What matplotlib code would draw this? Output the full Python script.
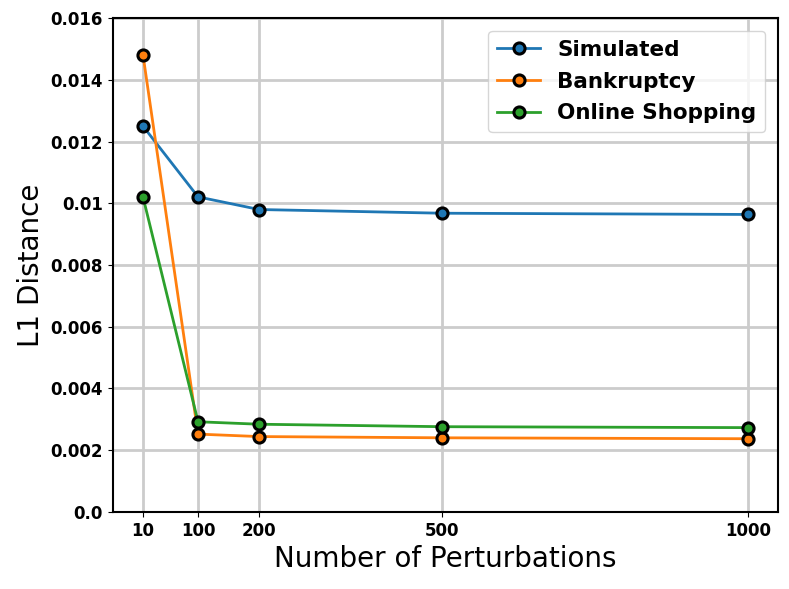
import matplotlib
matplotlib.use('Agg')
import matplotlib.pyplot as plt

# number of perturbations
perturbations = [10, 100, 200, 500, 1000]

simulated = [0.0125, 0.01021, 0.0098, 0.00968, 0.00964]
bankruptcy = [0.0148, 0.00252, 0.00244, 0.0024, 0.00237]
online_shopping = [0.0102, 0.00292, 0.00284, 0.00276, 0.00273]

y_ticks = [0.0, 0.002, 0.004, 0.006, 0.008, 0.01, 0.012, 0.014, 0.016]
y_labels = ['0.0', '0.002', '0.004', '0.006', '0.008', '0.01', '0.012', '0.014', '0.016']

fig = plt.figure(figsize=(7.89, 5.89), dpi=100)
ax = fig.add_axes([0.143, 0.131, 0.843, 0.838])

style = dict(marker='o', markersize=8, markeredgecolor='black', markeredgewidth=2.2, linewidth=2)
ax.plot(perturbations, simulated, color='#1f77b4', label='Simulated', **style)
ax.plot(perturbations, bankruptcy, color='#ff7f0e', label='Bankruptcy', **style)
ax.plot(perturbations, online_shopping, color='#2ca02c', label='Online Shopping', **style)

ax.set_ylim(0, 0.016)
ax.set_xticks(perturbations)
ax.set_xticklabels([str(p) for p in perturbations], fontweight='bold', fontsize=12)
ax.set_yticks(y_ticks)
ax.set_yticklabels(y_labels, fontweight='bold', fontsize=12)
ax.grid(True, color='#cccccc', linewidth=2)
ax.set_axisbelow(True)
for s in ax.spines.values():
    s.set_linewidth(1.5)

ax.set_xlabel('Number of Perturbations', fontsize=20)
ax.set_ylabel('L1 Distance', fontsize=20)
ax.legend(prop={'weight': 'bold', 'size': 15.5}, loc='upper right',
          handlelength=2.0, labelspacing=0.55, borderaxespad=0.6)

fig.savefig('out.png', dpi=100)
